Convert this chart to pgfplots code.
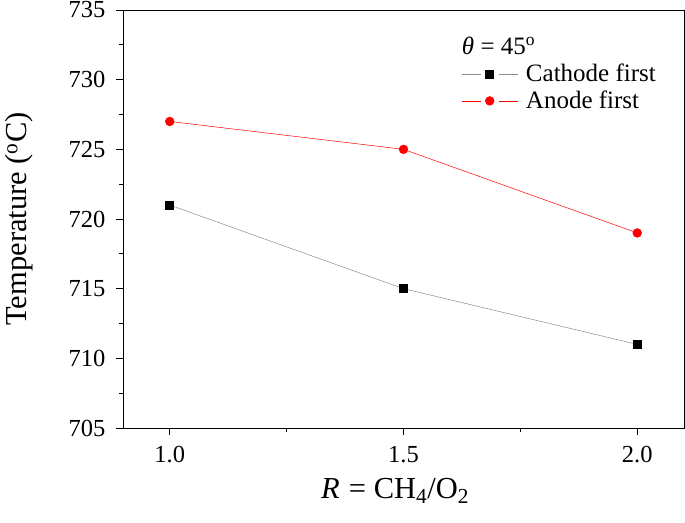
\documentclass[border=0pt]{standalone}
\usepackage{pgfplots}
\pgfplotsset{compat=1.18}
\usepackage{fontspec}
\setmainfont{Liberation Serif}
\begin{document}
\begin{tikzpicture}
\begin{axis}[
  scale only axis,
  width=561pt, height=418pt,
  xmin=0.9, xmax=2.1, ymin=705, ymax=735,
  xtick={1.0,1.5,2.0},
  xticklabels={1.0,1.5,2.0},
  minor xtick={1.25,1.75},
  ytick={705,710,...,735},
  minor ytick={707.5,712.5,...,732.5},
  tick align=outside,
  tick pos=left,
  major tick length=7pt,
  minor tick length=4pt,
  every tick/.style={black, line width=0.8pt},
  axis line style={line width=0.9pt},
  /pgf/number format/assume math mode=true,
  yticklabel style={font=\fontsize{24.5}{26}\selectfont, xshift=-7pt},
  xticklabel style={font=\fontsize{24.5}{26}\selectfont, yshift=-8pt},
  yticklabel={\pgfmathprintnumber[fixed,precision=0]{\tick}},
  ylabel={Temperature (\textsuperscript{o}C)},
  xlabel={\textit{R}\hspace{0.3em}= CH\textsubscript{4}/O\textsubscript{2}},
  label style={font=\fontsize{30.5}{32}\selectfont},
  ylabel style={at={(axis description cs:-0.2103,0.5)}, anchor=north, inner sep=0pt},
  xlabel style={at={(axis description cs:0.485,-0.168)}, anchor=base, inner sep=0pt},
  legend style={draw=none, fill=none, at={(0.603,0.94)}, anchor=north west,
    font=\fontsize{25}{27}\selectfont, row sep=4pt, inner sep=0pt},
  legend cell align=left,
  legend image code/.code={
    \draw[#1, mark=none] (0pt,0pt) -- (19pt,0pt);
    \draw[#1, mark=none] (37pt,0pt) -- (56pt,0pt);
    \draw plot[#1, only marks] coordinates {(28pt,0pt)};
    \path (62pt,0pt);
  },
]
\addlegendimage{empty legend}
\addlegendentry{\hspace{-64pt}\textit{θ} = 45\textsuperscript{o}}
\addplot[color=gray!90, line width=0.5pt, mark=square*, mark size=4pt,
  mark options={fill=black, draw=black}]
  coordinates {(1.0,721) (1.5,715) (2.0,711)};
\addlegendentry{Cathode first}
\addplot[color=red, line width=0.5pt, mark=*, mark size=4.4pt,
  mark options={fill=red, draw=red}]
  coordinates {(1.0,727) (1.5,725) (2.0,719)};
\addlegendentry{Anode first}
\end{axis}
\pgfresetboundingbox
\path[use as bounding box] ([xshift=-123pt,yshift=-95pt]current axis.south west) rectangle ([xshift=1pt,yshift=10pt]current axis.north east);
\end{tikzpicture}
\end{document}
